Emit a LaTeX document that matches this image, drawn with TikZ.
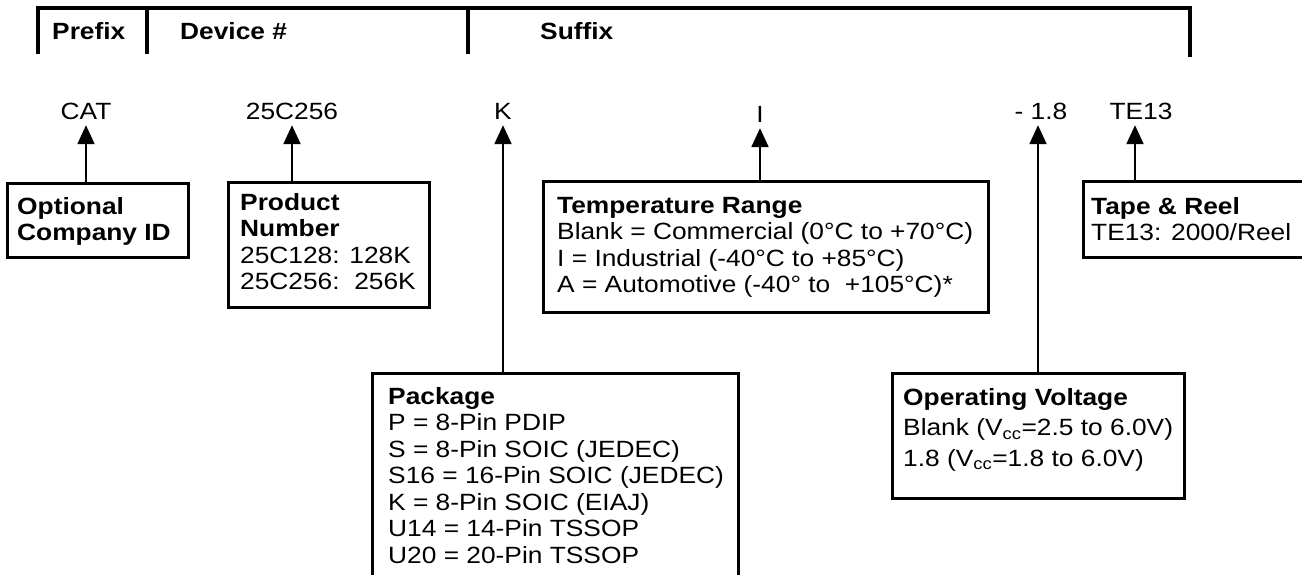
\documentclass[tikz,border=0pt]{standalone}
\usepackage{fontspec}
\setmainfont{Liberation Sans}[FakeStretch=1.12]
\usetikzlibrary{arrows.meta}
\newcommand\fsz{\fontsize{23.5}{26.5}\selectfont}
\begin{document}
\begin{tikzpicture}[x=1pt,y=-1pt,
  every node/.style={inner sep=0pt},
  box/.style={draw, line width=3pt, inner sep=0pt},
  txt/.style={anchor=base west, align=left, font=\fsz},
  hdr/.style={anchor=base west, font=\fsz\bfseries},
  lbl/.style={anchor=base, text depth=0pt, font=\fsz},
  arr/.style={line width=2.2pt, -{Triangle[length=19pt,width=17pt]}, shorten >=5pt},
  bar/.style={line width=3.8pt, line join=miter}]
\useasboundingbox (0,0) rectangle (1302,575);

% header bar
\draw[bar] (38,54) -- (38,8) -- (1190,8) -- (1190,57);
\draw[bar] (147,8) -- (147,54);
\draw[bar] (468,8) -- (468,54);
\node[hdr] (hp) at (52,40) {Prefix};
\node[hdr] (hd) at (180,40) {Device \#};
\node[hdr] (hs) at (540,40) {Suffix};

% code labels
\node[lbl] (cat) at (86,120) {CAT};
\node[lbl] (dev) at (292,120) {25C256};
\node[lbl] (k) at (503,120) {K};
\node[lbl] (i) at (760,123) {I};
\node[lbl] (v) at (1041,120) {- 1.8};
\node[lbl] (te) at (1141,120) {TE13};

% boxes
\node[box, minimum width=181pt, minimum height=73pt] (optbox) at (97.5,220.5) {};
\node[box, minimum width=201pt, minimum height=124pt] (prodbox) at (328.5,245) {};
\node[box, minimum width=445pt, minimum height=130pt] (tempbox) at (765.5,247) {};
\node[box, minimum width=237pt, minimum height=75pt] (tapebox) at (1201.5,219.5) {};
\node[box, minimum width=366pt, minimum height=227pt] (pkgbox) at (555,486.5) {};
\node[box, minimum width=292pt, minimum height=125pt] (volbox) at (1038,435.5) {};

% box texts (anchored at the baseline of their last line)
\node[txt, font=\fsz\bfseries] (opttxt) at (17,240.5) {Optional\\Company ID};
\node[txt] (prodtxt) at (240,289.5) {\textbf{Product}\\\textbf{Number}\\25C128: 128K\\25C256:\ \ 256K};
\node[txt] (temptxt) at (557,292.5) {\textbf{Temperature Range}\\Blank = Commercial (0°C to +70°C)\\I = Industrial (-40°C to +85°C)\\A = Automotive (-40° to\ \ +105°C)*};
\node[txt] (tapetxt) at (1091,240.5) {\textbf{Tape \& Reel}\\TE13: 2000/Reel};
\node[txt] (pkgtxt) at (388,563) {\textbf{Package}\\P = 8-Pin PDIP\\S = 8-Pin SOIC (JEDEC)\\S16 = 16-Pin SOIC (JEDEC)\\K = 8-Pin SOIC (EIAJ)\\U14 = 14-Pin TSSOP\\U20 = 20-Pin TSSOP};
\node[txt, font=\fontsize{23.5}{30.5}\selectfont] (voltxt) at (903,466) {\textbf{Operating Voltage}\\Blank (V\textsubscript{cc}=2.5 to 6.0V)\\1.8 (V\textsubscript{cc}=1.8 to 6.0V)};

% arrows
\draw[arr] (optbox.north -| cat.south) -- (cat.south);
\draw[arr] (prodbox.north -| dev.south) -- (dev.south);
\draw[arr] (pkgbox.north -| k.south) -- (k.south);
\draw[arr] (tempbox.north -| i.south) -- (i.south);
\draw[arr] (volbox.north) -- (volbox.north |- v.south);
\draw[arr] (tapebox.north -| te.south) ++(-6,0) coordinate (tebot) -- (tebot |- te.south);
\end{tikzpicture}
\end{document}
